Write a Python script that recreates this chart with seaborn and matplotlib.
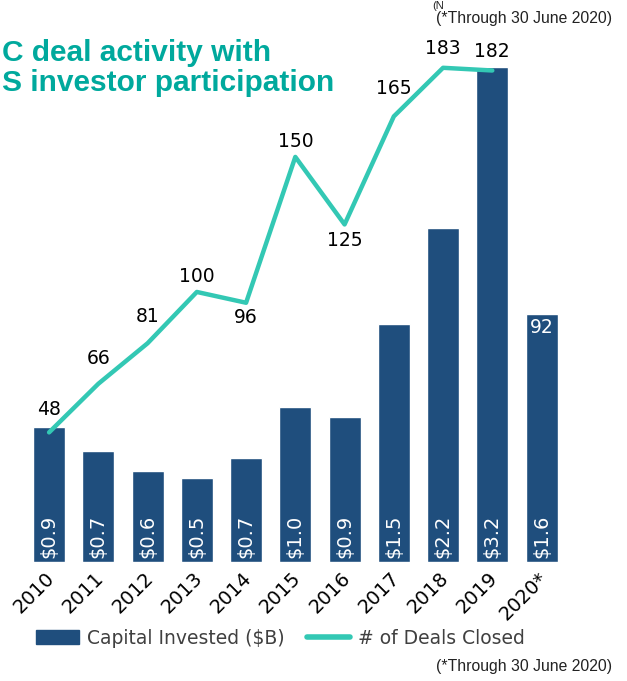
import numpy as np
import pandas as pd
import matplotlib.pyplot as plt
import matplotlib.transforms as mtransforms
import seaborn as sns
from matplotlib.patches import Patch
from matplotlib.lines import Line2D

# data
years = ["2010", "2011", "2012", "2013", "2014", "2015", "2016", "2017", "2018", "2019", "2020*"]
capital = [0.87, 0.72, 0.59, 0.54, 0.67, 1.0, 0.94, 1.54, 2.16, 3.2, 1.6]
capital_labels = ["$0.9", "$0.7", "$0.6", "$0.5", "$0.7", "$1.0", "$0.9", "$1.5", "$2.2", "$3.2", "$1.6"]
deals = [48, 66, 81, 100, 96, 150, 125, 165, 183, 182, 92]
n_full_years = 10  # 2020 is partial, no line point drawn

BAR = "#1f4e7d"
LINE = "#33c8b4"
TEAL = "#00a99d"

sns.set_style("white")
plt.rcParams["font.family"] = ["DejaVu Sans"]

fig = plt.figure(figsize=(6.27, 6.81), dpi=100)
ax = fig.add_axes([0.039, 0.1747, 0.864, 0.7666])

df = pd.DataFrame({"year": years, "capital": capital})
sns.barplot(data=df, x="year", y="capital", color=BAR, saturation=1, width=0.65, ax=ax)
ax.set_ylim(0, 3.374)
ax.set_xlim(-0.5, 10.5)

for i, lab in enumerate(capital_labels):
    ax.annotate(lab.replace("$", r"\$"), (i, 0), xytext=(0, 4), textcoords="offset pixels",
                rotation=90, ha="center", va="bottom", color="white", fontsize=14)

ax2 = ax.twinx()
line_df = pd.DataFrame({"pos": np.arange(n_full_years), "deals": deals[:n_full_years]})
sns.lineplot(data=line_df, x="pos", y="deals", color=LINE, lw=3.2, ax=ax2)
ax2.set_ylim(0, 193.3)

# label offsets in pixels (above / below the point)
label_dy = [23, 25, 27, 15, -15, 15, -16, 28, 19, 19, -14]
for i, (v, dy) in enumerate(zip(deals, label_dy)):
    ax2.annotate(str(v), (i, v), xytext=(0, dy), textcoords="offset pixels",
                 ha="center", va="center", fontsize=13.5,
                 color="white" if i >= n_full_years else "black")

for a in (ax, ax2):
    sns.despine(ax=a, left=True, bottom=True, right=True, top=True)
    a.set_ylabel("")
    a.set_yticks([])
ax.set_xlabel("")
ax2.set_xlabel("")
ax.tick_params(axis="x", length=0, pad=2, labelcolor="black")
shift = mtransforms.ScaledTranslation(-4 / 100, -4 / 100, fig.dpi_scale_trans)
for t in ax.get_xticklabels():
    t.set_rotation(45)
    t.set_ha("right")
    t.set_va("top")
    t.set_rotation_mode("anchor")
    t.set_fontsize(14)
    t.set_transform(t.get_transform() + shift)

handles = [Patch(color=BAR), Line2D([0], [0], color=LINE, lw=4)]
leg = fig.legend(handles, [r"Capital Invested (\$B)", "# of Deals Closed"],
                 loc="center", bbox_to_anchor=(0.447, 1 - 638 / 681), ncol=2,
                 frameon=False, fontsize=13.5, handlelength=2.3, handletextpad=0.4,
                 columnspacing=1.2)
for t in leg.get_texts():
    t.set_color("#404040")

# title, at the left edge like the source
fig.text(2 / 627, 1 - 61 / 681, "C deal activity with", va="baseline", ha="left",
         fontsize=21.5, weight="bold", color=TEAL, family="Liberation Sans")
fig.text(2 / 627, 1 - 91 / 681, "S investor participation", va="baseline", ha="left",
         fontsize=21.5, weight="bold", color=TEAL, family="Liberation Sans")

fig.text(432 / 627, 1 - 9 / 681, "(N", va="baseline", ha="left", fontsize=8,
         family="Liberation Sans", color="#222222")
fig.text(612 / 627, 1 - 19 / 681, "(*Through 30 June 2020)", va="center", ha="right",
         fontsize=11.3, family="Liberation Sans", color="#222222")
fig.text(612 / 627, 1 - 667 / 681, "(*Through 30 June 2020)", va="center", ha="right",
         fontsize=11.3, family="Liberation Sans", color="#222222")

fig.savefig("out.png", dpi=100)
